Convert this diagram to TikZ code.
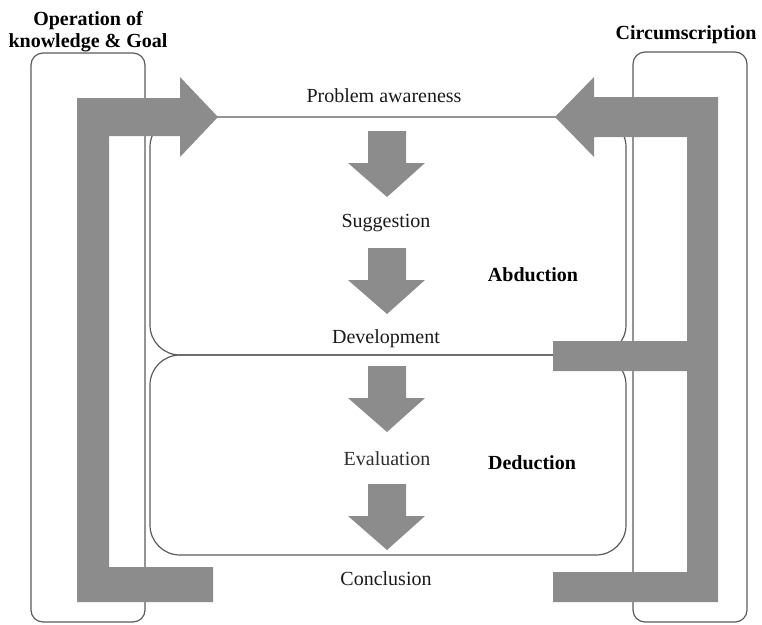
\documentclass[tikz,border=0pt]{standalone}
\usepackage{fontspec}
\setmainfont{Liberation Serif}
\usetikzlibrary{calc}

\definecolor{bargray}{RGB}{140,140,140}
\definecolor{linegray}{RGB}{90,90,90}

\begin{document}
\begin{tikzpicture}[
  x=1pt, y=-1pt,
  outerbox/.style = {draw=linegray, line width=1.2pt, rounded corners=12pt},
  phasebox/.style = {draw=linegray, line width=1.2pt, rounded corners=30pt},
  greybar/.style = {fill=bargray},
  headtxt/.style = {font=\fontsize{20}{22}\selectfont\bfseries, inner sep=0pt},
  stepname/.style = {font=\fontsize{20}{22}\selectfont, text=black!90, inner sep=0pt, anchor=base}
]
\useasboundingbox (0,0) rectangle (762,624);

% Outer frames
\draw[outerbox] (31,53) rectangle (145,622);
\draw[outerbox] (633,52) rectangle (747,622);

% Abduction and deduction phases
\draw[phasebox] (150,117) rectangle (626,355);
\draw[phasebox] (150,355) rectangle (626,555);

% Side arrows
\fill[greybar] (77,602) -- (77,98) -- (180,98) -- (180,77) -- (218,117) -- (180,157)
  -- (180,136) -- (109,136) -- (109,567) -- (213,567) -- (213,602) -- cycle;
\fill[greybar] (718,602) -- (718,97) -- (594,97) -- (594,77) -- (555,117) -- (594,157)
  -- (594,137) -- (687,137) -- (687,341) -- (553,341) -- (553,371) -- (687,371)
  -- (687,572) -- (553,572) -- (553,602) -- cycle;

% Step arrows
\foreach \ty in {131,248,366,484}
  \fill[greybar] (368,\ty) -- (406,\ty) -- (406,\ty+32) -- (425,\ty+32) -- (387,\ty+66)
    -- (348,\ty+32) -- (368,\ty+32) -- cycle;

% Steps
\node[stepname] (pa) at (384,102) {Problem awareness};
\node[stepname] (sugg) at (386,227) {Suggestion};
\node[stepname] (dev) at (386,343) {Development};
\node[stepname, text=black!82] (eval) at (387,465) {Evaluation};
\node[stepname] (concl) at (386,585) {Conclusion};

% Headings
\node[headtxt, anchor=base] (abd) at (533,281) {Abduction};
\node[headtxt, anchor=base] (ded) at (532,469) {Deduction};
\node[headtxt, anchor=base] (circ) at (686,39) {Circumscription};
\node[headtxt, anchor=north, align=center] (opgoal) at (88,11) {Operation of\\knowledge \& Goal};

\end{tikzpicture}
\end{document}
